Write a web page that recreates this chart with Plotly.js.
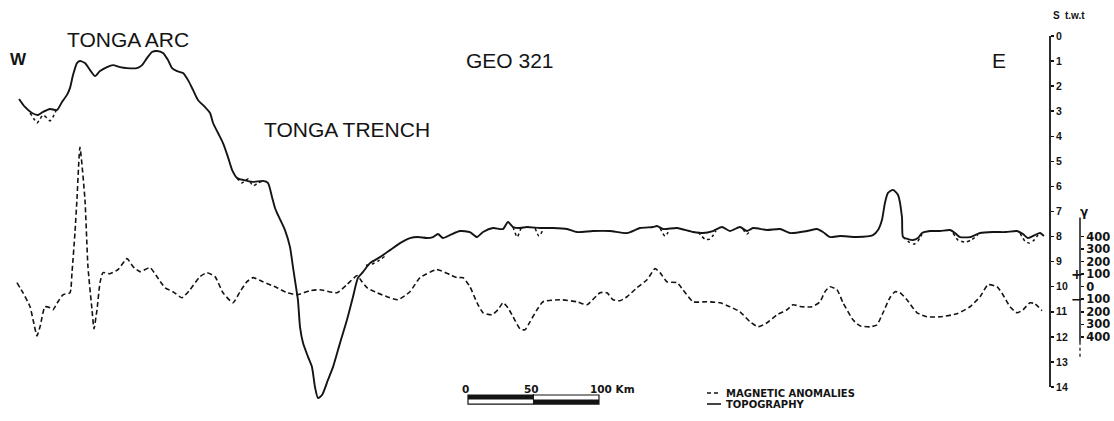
<!DOCTYPE html>
<html>
<head>
<meta charset="utf-8">
<script src="https://cdn.plot.ly/plotly-3.0.1.min.js"></script>
<style>html,body{margin:0;padding:0;background:#fff;}#chart{width:1114px;height:421px;}</style>
</head>
<body>
<div id="chart"></div>
<script>
// Topography profile: distance (km from west end) and two-way travel time (s)
const topoKm = [0.8,5.3,10.7,15.3,19.1,24.4,29.8,33.6,37.4,39.7,42.0,45.0,47.3,51.1,55.0,58.8,62.6,67.9,72.5,77.9,83.2,90.8,94.7,98.5,102.3,106.1,110.7,114.5,117.6,121.4,126.0,129.8,133.6,137.4,142.7,146.6,148.9,152.7,156.5,160.3,163.4,167.2,171.8,179.4,187.0,190.8,193.9,196.2,197.7,203.8,207.6,209.9,212.2,213.7,215.3,217.6,221.4,224.4,226.7,229.0,232.1,236.6,240.5,245.8,251.1,255.7,259.5,263.4,268.7,276.3,284.0,291.6,299.2,305.3,312.2,316.8,320.6,324.4,329.8,337.4,345.0,350.4,355.0,362.6,370.2,374.0,377.9,383.2,388.5,398.5,408.4,419.1,426.7,438.9,451.9,464.9,474.8,484.7,487.8,492.4,503.1,515.3,522.9,530.5,537.4,543.5,551.1,556.5,561.1,571.8,581.7,589.3,602.3,609.9,614.5,619.8,627.5,640.5,652.7,656.5,659.5,661.8,664.1,667.9,671.8,674.8,675.6,679.4,683.2,687.0,690.1,696.2,703.8,711.5,715.3,719.1,726.7,734.4,744.3,754.0,762.6,767.2,771.0,776.3,780.2,783.2];
const topoTwt = [2.51,2.83,3.07,3.15,3.03,2.91,2.95,2.63,2.35,2.07,1.56,1.08,1.00,1.08,1.36,1.60,1.40,1.24,1.16,1.24,1.28,1.28,1.16,0.88,0.64,0.60,0.68,0.96,1.28,1.40,1.48,1.76,2.15,2.55,2.83,3.07,3.47,3.87,4.27,4.83,5.34,5.66,5.74,5.82,5.78,5.86,6.42,6.86,7.06,7.74,8.41,9.21,10.01,10.53,11.61,12.25,12.80,13.20,14.00,14.44,14.32,13.72,13.20,12.25,11.33,10.41,9.65,9.41,9.06,8.82,8.54,8.26,8.06,8.02,8.06,8.02,7.90,8.06,7.94,7.78,7.82,8.02,7.82,7.66,7.70,7.42,7.62,7.66,7.62,7.66,7.66,7.70,7.82,7.78,7.78,7.86,7.66,7.62,7.58,7.70,7.66,7.82,7.86,7.78,7.62,7.78,7.62,7.78,7.66,7.74,7.70,7.86,7.78,7.70,7.82,8.02,7.98,8.02,7.94,7.74,7.34,6.66,6.26,6.14,6.34,7.22,8.02,8.10,8.14,8.06,7.86,7.78,7.78,7.74,7.86,8.02,8.02,7.86,7.82,7.82,7.78,7.90,8.06,7.94,7.86,7.98];

// Dotted (second echo) where it departs from the solid topography; null = gap
const echoKm = [9.2,12.2,14.5,16.8,19.1,22.1,24.4,26.7,29.0,null,167.2,171.0,173.3,175.6,179.4,183.2,187.8,null,265.6,270.2,274.8,280.2,null,377.9,381.0,384.0,null,394.7,397.7,401.5,null,490.1,493.9,497.7,null,519.1,524.4,528.2,532.8,null,553.4,556.5,559.5,null,675.6,680.2,684.0,687.0,690.1,null,713.8,717.6,723.0,727.5,732.8,null,764.9,768.7,771.8,775.6,778.6];
const echoTwt = [3.07,3.31,3.47,3.31,3.15,3.27,3.39,3.23,2.99,null,5.66,5.86,5.78,5.70,5.98,5.86,5.78,null,9.14,9.10,8.98,8.78,null,7.62,8.02,7.66,null,7.66,7.98,7.66,null,7.66,7.98,7.70,null,7.82,8.10,8.10,7.78,null,7.70,7.90,7.74,null,8.02,8.22,8.30,8.18,7.90,null,7.86,8.14,8.22,8.14,7.94,null,7.86,8.18,8.26,8.14,7.94];

// Magnetic anomalies: distance (km) and anomaly (gamma)
const magKm = [-0.8,3.8,9.2,11.5,14.5,16.8,20.6,24.4,26.7,30.5,34.4,39.7,41.2,43.5,45.0,47.3,51.1,53.4,56.5,58.0,60.3,62.6,64.9,70.2,76.3,83.2,87.8,93.1,100.8,106.1,112.2,118.3,125.2,131.3,138.9,144.3,150.4,156.5,164.1,169.5,174.8,179.4,187.0,197.7,205.3,213.0,222.9,230.5,243.5,251.1,258.8,262.6,266.4,274.0,281.7,290.1,299.2,306.9,319.8,329.8,335.1,339.7,345.0,350.4,355.0,361.8,366.4,370.2,374.0,377.9,383.2,387.0,390.8,396.2,400.8,413.7,426.7,434.4,444.3,449.6,454.2,459.5,464.9,472.5,480.2,486.3,490.1,495.4,503.1,507.6,515.3,526.0,535.9,543.5,551.1,558.8,564.9,571.8,579.4,587.0,591.6,598.5,606.1,612.2,616.0,619.8,625.2,629.8,637.4,642.7,650.4,655.7,660.3,665.6,669.5,673.3,678.6,686.3,693.9,703.8,716.8,726.7,734.4,740.5,747.3,751.9,757.3,762.6,767.2,772.5,776.3,781.7];
const magGamma = [32,-48,-160,-264,-392,-320,-160,-168,-184,-120,-64,-48,112,432,696,1112,696,160,-184,-336,-184,32,112,104,136,224,160,120,152,80,-8,-40,-88,-24,80,112,80,-48,-128,-40,40,72,40,-8,-48,-64,-32,-24,-48,16,88,40,-8,-48,-80,-104,-40,72,136,96,72,72,0,-128,-208,-224,-184,-128,-168,-240,-336,-344,-280,-184,-120,-104,-120,-144,-48,-48,-104,-112,-80,-8,56,144,112,40,32,-24,-120,-120,-128,-160,-200,-280,-320,-288,-224,-184,-144,-160,-160,-120,-40,0,-24,-128,-264,-312,-320,-304,-208,-88,-40,-48,-104,-208,-240,-240,-216,-160,-80,16,0,-64,-160,-208,-184,-128,-136,-192];

// Axis tick labels
const twtTicks = [0,1,2,3,4,5,6,7,8,9,10,11,12,13,14];
const gammaTicks = [400,300,200,100,0,-100,-200,-300,-400];
const gammaLabels = ['400','300','200','100','0','100','200','300','400'];

// ---- layout geometry (figure pixels) ----
const W = 1114, H = 421;
const px = v => v / W;
const py = v => 1 - v / H;
const ink = '#141414';

const traces = [
  {x: echoKm, y: echoTwt, mode: 'lines', connectgaps: false, hoverinfo: 'skip',
   line: {color: ink, width: 1.5, dash: 'dot', shape: 'spline', smoothing: 0.6}},
  {x: topoKm, y: topoTwt, mode: 'lines', name: 'TOPOGRAPHY',
   line: {color: ink, width: 1.9, shape: 'spline', smoothing: 0.6}},
  {x: magKm, y: magGamma, yaxis: 'y2', mode: 'lines', name: 'MAGNETIC ANOMALIES',
   line: {color: ink, width: 1.6, dash: '5px,3px', shape: 'spline', smoothing: 0.5}}
];

const tickFontS = {family: 'Liberation Sans, Arial, sans-serif', size: 10.5, color: ink, weight: 'bold'};
const tickFontG = {family: 'DejaVu Sans, sans-serif', size: 11.5, color: ink, weight: 'bold'};

function ann(text, x, y, size, opts) {
  return Object.assign({text: text, xref: 'paper', yref: 'paper', x: px(x), y: py(y),
    showarrow: false, xanchor: 'center', yanchor: 'middle',
    font: {family: 'Liberation Sans, Arial, sans-serif', size: size, color: ink}}, opts || {});
}
const boldS = s => ({family: 'Liberation Sans, Arial, sans-serif', size: s, color: ink, weight: 'bold'});
const boldD = s => ({family: 'DejaVu Sans, sans-serif', size: s, color: ink, weight: 'bold'});

const layout = {
  width: W, height: H,
  margin: {l: 0, r: 0, t: 0, b: 0, pad: 0},
  paper_bgcolor: '#fff', plot_bgcolor: '#fff',
  showlegend: false,
  xaxis: {domain: [0, px(1050)], range: [-13.74, 787.8], visible: false, fixedrange: true},
  yaxis: {domain: [0, 1], range: [15.357, -1.436], side: 'right', anchor: 'x',
    showgrid: false, zeroline: false, showline: false,
    ticks: 'outside', ticklen: 3, tickwidth: 1.5, tickcolor: ink,
    tickmode: 'array', tickvals: twtTicks, ticktext: twtTicks.map(String),
    tickfont: tickFontS, automargin: false},
  yaxis2: {overlaying: 'y', side: 'right', anchor: 'free', position: px(1080),
    range: [-1071.4, 2287.2], showgrid: false, zeroline: false, showline: false,
    ticks: 'outside', ticklen: 3, tickwidth: 1.5, tickcolor: ink,
    tickmode: 'array', tickvals: gammaTicks, ticktext: gammaLabels,
    tickfont: tickFontG, automargin: false},
  shapes: [
    {type: 'line', xref: 'paper', yref: 'y', x0: px(1050), x1: px(1050), y0: 0, y1: 14, line: {color: ink, width: 1.8}},
    {type: 'line', xref: 'paper', yref: 'y2', x0: px(1080), x1: px(1080), y0: 552, y1: -440, line: {color: ink, width: 1.5}},
    {type: 'line', xref: 'paper', yref: 'y2', x0: px(1080), x1: px(1080), y0: -440, y1: -568, line: {color: ink, width: 1.3, dash: 'dot'}},
    {type: 'rect', xref: 'x', yref: 'y', x0: 343.5, x1: 443.5, y0: 14.32, y1: 14.68, line: {color: ink, width: 1.2}},
    {type: 'rect', xref: 'x', yref: 'y', x0: 343.5, x1: 393.5, y0: 14.32, y1: 14.50, fillcolor: ink, line: {width: 0}},
    {type: 'rect', xref: 'x', yref: 'y', x0: 393.5, x1: 443.5, y0: 14.50, y1: 14.68, fillcolor: ink, line: {width: 0}},
    {type: 'line', xref: 'x', yref: 'y', x0: 393.5, x1: 393.5, y0: 14.28, y1: 14.70, line: {color: ink, width: 1}},
    {type: 'line', xref: 'paper', yref: 'paper', x0: px(707), x1: px(721), y0: py(393), y1: py(393), line: {color: ink, width: 1.4, dash: '4px,3px'}},
    {type: 'line', xref: 'paper', yref: 'paper', x0: px(707), x1: px(721), y0: py(404), y1: py(404), line: {color: ink, width: 1.6}}
  ],
  annotations: [
    ann('W', 18.5, 59, 17, {font: boldS(17)}),
    ann('TONGA ARC', 128, 40, 21),
    ann('TONGA TRENCH', 347, 130, 21),
    ann('GEO 321', 510, 60, 21),
    ann('E', 999, 60, 21),
    ann('S', 1056, 15.5, 10, {font: boldS(10)}),
    ann('t.w.t', 1075, 15.5, 10, {font: boldS(10)}),
    ann('γ', 1084, 212, 12, {font: boldD(12)}),
    ann('+', 1076.5, 274, 14, {font: boldD(14)}),
    ann('−', 1076.5, 298.5, 14, {font: boldD(14)}),
    ann('0', 465, 389, 11, {font: boldD(10.5)}),
    ann('50', 531, 389, 11, {font: boldD(10.5)}),
    ann('100 Km', 588, 389, 11, {xanchor: 'left', font: boldD(10.5)}),
    ann('MAGNETIC ANOMALIES', 724, 393, 10, {xanchor: 'left', font: boldD(10)}),
    ann('TOPOGRAPHY', 724, 404, 10, {xanchor: 'left', font: boldD(10)})
  ]
};

Plotly.newPlot('chart', traces, layout, {staticPlot: true, displayModeBar: false});
</script>
</body>
</html>
